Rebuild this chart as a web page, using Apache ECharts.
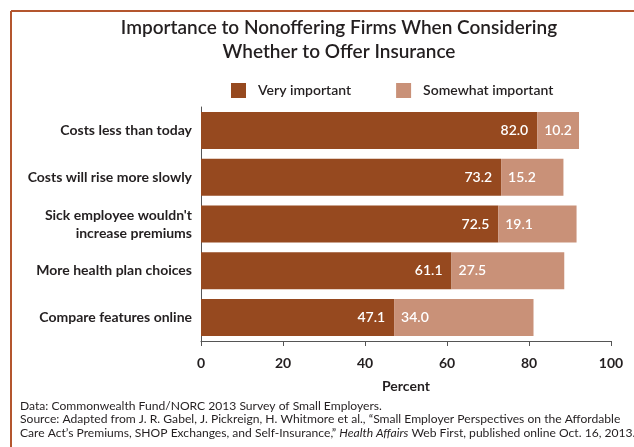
<!DOCTYPE html>
<html><head><meta charset="utf-8">
<script src="https://cdn.jsdelivr.net/npm/echarts@6/dist/echarts.min.js"></script>
<style>html,body{margin:0;padding:0;background:#fff}#c{width:634px;height:447px}</style>
</head><body><div id="c"></div>
<script>
const categories = ["Costs less than today","Costs will rise more slowly","Sick employee wouldn't\nincrease premiums","More health plan choices","Compare features online"];
const veryImportant = [82.0, 73.2, 72.5, 61.1, 47.1];
const somewhatImportant = [10.2, 15.2, 19.1, 27.5, 34.0];
const xTicks = [0, 20, 40, 60, 80, 100];
const seriesNames = ["Very important", "Somewhat important"];

const FONT = "Lato";
const chart = echarts.init(document.getElementById('c'), null, {renderer:'canvas'});
chart.setOption({
  animation:false,
  textStyle:{fontFamily:FONT},
  title:{
    text:"Importance to Nonoffering Firms When Considering\nWhether to Offer Insurance",
    left:334, top:11, textAlign:'center',
    textStyle:{fontFamily:FONT, fontSize:19, fontWeight:600, color:'#231f20', lineHeight:24}
  },
  legend:{
    left:226, top:78, itemWidth:15, itemHeight:15, itemGap:45, icon:'rect',
    textStyle:{fontFamily:FONT, fontSize:14, fontWeight:600, color:'#231f20', padding:[0,0,0,7]},
    data:seriesNames
  },
  grid:{left:201, right:23, top:107, bottom:106},
  xAxis:{
    type:'value', min:xTicks[0], max:xTicks[xTicks.length-1], interval:20,
    axisLine:{show:true, lineStyle:{color:'#555', width:1}},
    axisTick:{show:true, length:5, lineStyle:{color:'#555'}},
    splitLine:{show:false},
    axisLabel:{fontFamily:FONT, fontSize:14, fontWeight:'bold', color:'#231f20', margin:15},
    name:'Percent', nameLocation:'middle', nameGap:38,
    nameTextStyle:{fontFamily:FONT, fontSize:14, fontWeight:'bold', color:'#231f20'}
  },
  yAxis:{
    type:'category', data:categories, inverse:true,
    axisLine:{show:true, lineStyle:{color:'#555'}},
    axisTick:{show:false},
    axisLabel:{fontFamily:FONT, fontSize:14, fontWeight:'bold', color:'#231f20', margin:9, lineHeight:18}
  },
  series:[
    {name:seriesNames[0], type:'bar', stack:'t', data:veryImportant, barCategoryGap:'21%',
     itemStyle:{color:'#96491f'},
     label:{show:true, position:'insideRight', distance:9, color:'#fff', fontFamily:FONT, fontSize:14, fontWeight:600,
            formatter:p=>p.value.toFixed(1)}},
    {name:seriesNames[1], type:'bar', stack:'t', data:somewhatImportant,
     itemStyle:{color:'#c99178'},
     label:{show:true, position:'insideLeft', distance:7, color:'#fff', fontFamily:FONT, fontSize:14, fontWeight:600,
            formatter:p=>p.value.toFixed(1)}}
  ],
  graphic:[
    {type:'line', shape:{x1:11, y1:11, x2:634, y2:11}, style:{stroke:'#b4562e', lineWidth:2}},
    {type:'line', shape:{x1:11, y1:11, x2:11, y2:447}, style:{stroke:'#b4562e', lineWidth:2}},
    {type:'text', left:20, top:399, style:{
      text:"Data: Commonwealth Fund/NORC 2013 Survey of Small Employers.\nSource: Adapted from J. R. Gabel, J. Pickreign, H. Whitmore et al., \u201cSmall Employer Perspectives on the Affordable\nCare Act\u2019s Premiums, SHOP Exchanges, and Self-Insurance,\u201d {i|Health Affairs} Web First, published online Oct. 16, 2013.",
      font:"12.1px " + FONT, fill:'#231f20', lineHeight:13.5,
      rich:{i:{fontStyle:'italic', fontFamily:FONT, fontSize:12.1, fill:'#231f20', lineHeight:13.5}}
    }}
  ]
});
</script></body></html>
